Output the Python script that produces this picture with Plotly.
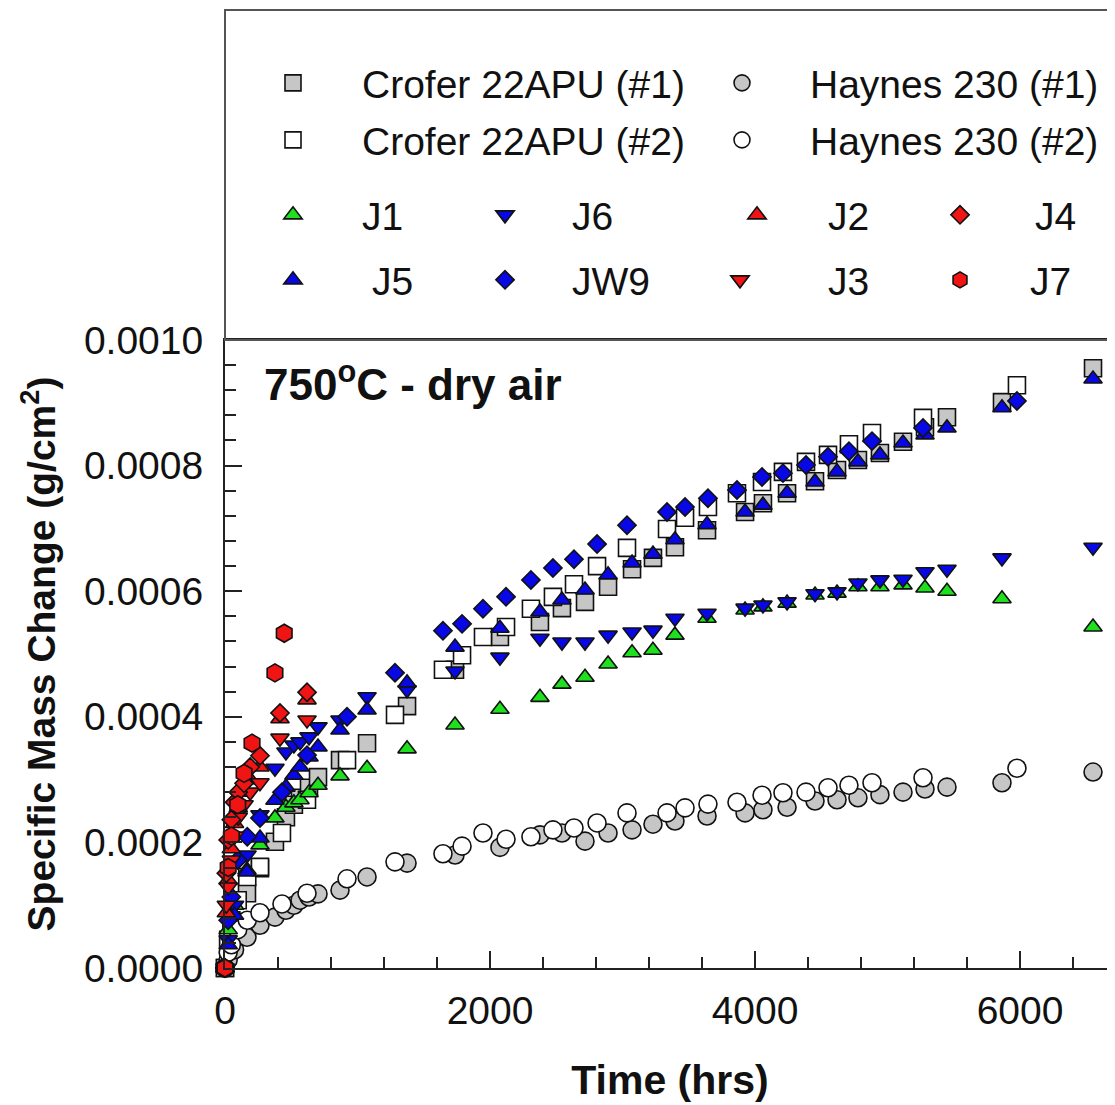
import plotly.graph_objects as go

# ---------------- data (time in hrs, mass change in units of 1e-4 g/cm^2) ----------------
time_set_a = [0, 24, 72, 166, 264, 377, 460, 520, 566, 634, 702, 868, 1072, 1374, 1736, 2075,
              2377, 2543, 2717, 2891, 3072, 3230, 3396, 3638, 3925, 4060, 4242, 4453, 4619,
              4777, 4943, 5117, 5283, 5449, 5864, 6551]
time_set_b = [0, 24, 48, 96, 168, 264, 430, 619, 921, 1283, 1645, 1789, 1947, 2121, 2309, 2475,
              2634, 2808, 3034, 3336, 3472, 3645, 3864, 4053, 4211, 4385, 4551, 4709, 4883,
              5268, 5977]
time_red = [0, 10, 24, 48, 72, 100, 144, 190, 264, 415, 619]
time_j7 = [0, 24, 48, 96, 144, 204, 377, 447]

crofer_1 = [0, 0.37, 0.73, 1.19, 1.59, 2.01, 2.40, 2.60, 2.71, 2.87, 3.04, 3.31, 3.58, 4.17,
            4.75, 5.27, 5.51, 5.73, 5.83, 6.07, 6.35, 6.53, 6.70, 6.97, 7.26, 7.40, 7.56, 7.75,
            7.93, 8.09, 8.20, 8.38, 8.61, 8.77, 9.01, 9.55]
haynes_1 = [0, 0.13, 0.29, 0.49, 0.68, 0.81, 0.92, 1.00, 1.08, 1.13, 1.18, 1.24, 1.45, 1.67,
            1.80, 1.92, 2.12, 2.15, 2.02, 2.15, 2.20, 2.29, 2.34, 2.42, 2.47, 2.52, 2.56, 2.66,
            2.68, 2.71, 2.76, 2.80, 2.85, 2.88, 2.95, 3.12]
j1 = [0, 0.61, 1.00, 1.56, 1.96, 2.39, 2.56, 2.63, 2.68, 2.79, 2.91, 3.06, 3.18, 3.49, 3.87,
      4.12, 4.31, 4.52, 4.63, 4.84, 5.02, 5.06, 5.30, 5.57, 5.70, 5.75, 5.81, 5.94, 5.97, 6.07,
      6.07, 6.10, 6.05, 6.00, 5.88, 5.43]
j5 = [0, 0.37, 0.84, 1.53, 2.07, 2.67, 2.88, 3.07, 3.20, 3.36, 3.52, 3.79, 4.11, 4.54, 5.11,
      5.41, 5.67, 5.86, 6.02, 6.26, 6.45, 6.59, 6.82, 7.06, 7.26, 7.37, 7.56, 7.74, 7.90, 8.06,
      8.17, 8.36, 8.49, 8.60, 8.92, 9.38]
j6 = [0, 0.45, 1.00, 1.80, 2.44, 3.18, 3.44, 3.55, 3.60, 3.68, 3.84, 3.95, 4.32, 4.43, 4.73,
      4.95, 5.25, 5.19, 5.19, 5.30, 5.35, 5.38, 5.57, 5.65, 5.73, 5.78, 5.83, 5.96, 5.99, 6.13,
      6.18, 6.19, 6.31, 6.35, 6.53, 6.70]

crofer_2 = [0, 0.45, 0.76, 1.08, 1.45, 1.61, 2.15, 2.68, 3.31, 4.03, 4.75, 4.98, 5.27, 5.43,
            5.72, 5.91, 6.11, 6.40, 6.69, 6.99, 7.17, 7.34, 7.56, 7.74, 7.90, 8.06, 8.17, 8.34,
            8.52, 8.76, 9.28]
haynes_2 = [0, 0.25, 0.37, 0.61, 0.76, 0.88, 1.02, 1.19, 1.42, 1.69, 1.82, 1.94, 2.15, 2.05,
            2.09, 2.20, 2.23, 2.31, 2.47, 2.47, 2.55, 2.61, 2.64, 2.75, 2.79, 2.80, 2.87, 2.91,
            2.95, 3.03, 3.18]
jw9 = [0, 0.76, 1.13, 1.72, 2.09, 2.39, 2.80, 3.39, 4.00, 4.70, 5.37, 5.48, 5.72, 5.91, 6.18,
       6.37, 6.51, 6.75, 7.05, 7.26, 7.34, 7.48, 7.61, 7.82, 7.88, 8.01, 8.14, 8.23, 8.39, 8.60,
       9.03]

j2 = [0, 0.88, 1.40, 1.90, 2.30, 2.55, 2.80, 3.00, 3.20, 3.97, 4.27]
j3 = [0, 1.00, 1.29, 1.72, 2.10, 2.40, 2.60, 2.80, 2.95, 3.66, 3.95]
j4 = [0, 1.51, 2.04, 2.36, 2.64, 2.80, 2.94, 3.20, 3.38, 4.06, 4.39]
j7 = [0, 1.60, 2.10, 2.60, 3.10, 3.58, 4.70, 5.33]

UNIT = 1e-4  # listed values are in 1e-4 g/cm^2

# ---------------- styles ----------------
FONT = "Liberation Sans, Arial, Helvetica, sans-serif"
GREY, WHITE = "#c6c6c6", "#ffffff"
GREEN, BLUE, RED = "#1ee01e", "#0808e6", "#f01414"

# name, times, values, symbol, fill, size, legend id
series = [
    ("Crofer 22APU (#1)", time_set_a, crofer_1, "square", GREY, 17, "legend"),
    ("Crofer 22APU (#2)", time_set_b, crofer_2, "square", WHITE, 17, "legend2"),
    ("Haynes 230 (#1)", time_set_a, haynes_1, "circle", GREY, 18, "legend3"),
    ("Haynes 230 (#2)", time_set_b, haynes_2, "circle", WHITE, 18, "legend4"),
    ("J1", time_set_a, j1, "triangle-up", GREEN, 16, "legend5"),
    ("J6", time_set_a, j6, "triangle-down", BLUE, 16, "legend6"),
    ("J5", time_set_a, j5, "triangle-up", BLUE, 16, "legend7"),
    ("JW9", time_set_b, jw9, "diamond", BLUE, 14, "legend8"),
    ("J2", time_red, j2, "triangle-up", RED, 16, "legend9"),
    ("J3", time_red, j3, "triangle-down", RED, 16, "legend10"),
    ("J4", time_red, j4, "diamond", RED, 14, "legend11"),
    ("J7", time_j7, j7, "hexagon", RED, 18, "legend12"),
]

# the page body adds an 8 px offset; positions below are given in window pixels
OFF = 8
# legend placement: (symbol centre x, row centre y, gap symbol->text), window px
legend_spots = {
    "legend": (293, 83, 69), "legend3": (742, 83, 68),
    "legend2": (293, 140, 69), "legend4": (742, 140, 68),
    "legend5": (293, 215, 69), "legend6": (505, 215, 67),
    "legend9": (757, 215, 71), "legend11": (960, 215, 75),
    "legend7": (293, 280, 79), "legend8": (505, 280, 67),
    "legend10": (740, 280, 88), "legend12": (960, 280, 70),
}

W, H = 1115 - OFF, 1105 - OFF
ML, MT = 225 - OFF, 340 - OFF
MB = H - (968 - OFF)
MR = 0
PW, PH = W - ML - MR, H - MT - MB


def px_to_paper_x(px):
    return (px - OFF - ML) / PW


def py_to_paper_y(py):
    return (H - MB - (py - OFF)) / PH


fig = go.Figure()
for name, t, v, sym, fill, size, leg in series:
    fig.add_trace(go.Scatter(
        x=t, y=[val * UNIT for val in v], mode="markers", name=name, legend=leg,
        cliponaxis=False,
        marker=dict(symbol=sym, size=size, color=fill, line=dict(color="#111111", width=1.6)),
    ))

legend_layouts = {}
for key, (sx, sy, gap) in legend_spots.items():
    itemw = max(30, 2 * (gap - 5))
    left_px = sx - 5 - itemw / 2
    legend_layouts[key] = dict(
        x=px_to_paper_x(left_px), y=py_to_paper_y(sy),
        xanchor="left", yanchor="middle", orientation="v",
        bgcolor="rgba(0,0,0,0)", borderwidth=0, itemwidth=itemw,
        font=dict(family=FONT, size=39, color="#111111"),
    )

fig.update_layout(
    width=W, height=H,
    margin=dict(l=ML, r=MR, t=MT, b=MB, pad=0),
    plot_bgcolor="white", paper_bgcolor="white",
    font=dict(family=FONT, color="#111111"),
    showlegend=True,
    **legend_layouts,
)

fig.update_xaxes(
    range=[0, 6717], tickmode="linear", tick0=0, dtick=2000,
    ticks="inside", ticklen=17, tickwidth=2, tickcolor="#222222",
    minor=dict(dtick=400, ticks="inside", ticklen=11, tickwidth=2, tickcolor="#222222"),
    showline=True, linecolor="#222222", linewidth=2, mirror=True,
    showgrid=False, zeroline=False,
    tickfont=dict(family=FONT, size=39, color="#111111"),
    ticklabelstandoff=7,
    title=dict(text="Time (hrs)", font=dict(family=FONT, size=41, weight="bold", color="#111111"),
               standoff=35),
)
fig.update_yaxes(
    range=[0, 0.001], tickmode="linear", tick0=0, dtick=0.0002, tickformat=".4f",
    ticks="inside", ticklen=17, tickwidth=2, tickcolor="#222222",
    minor=dict(dtick=0.00004, ticks="inside", ticklen=11, tickwidth=2, tickcolor="#222222"),
    showline=True, linecolor="#222222", linewidth=2, mirror=False,
    showgrid=False, zeroline=False,
    tickfont=dict(family=FONT, size=39, color="#111111"),
    ticklabelstandoff=12,
    title=dict(text="Specific Mass Change (g/cm<sup>2</sup>)",
               font=dict(family=FONT, size=39, weight="bold", color="#111111"), standoff=16),
)

# legend frame above the plot
fig.add_shape(type="rect", xref="paper", yref="paper",
              x0=0, x1=1.05, y0=1, y1=py_to_paper_y(10),
              line=dict(color="#555555", width=2), fillcolor="rgba(0,0,0,0)", layer="above")

fig.add_annotation(
    text="750<sup>o</sup>C - dry air", xref="paper", yref="paper",
    x=px_to_paper_x(262), y=py_to_paper_y(381), xanchor="left", yanchor="middle",
    showarrow=False, font=dict(family=FONT, size=44, weight="bold", color="#111111"),
)

fig.write_html("out.html")
